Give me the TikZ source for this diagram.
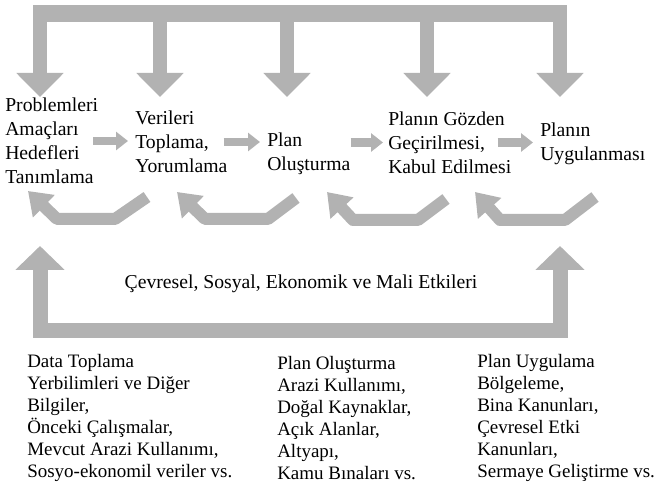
\documentclass[tikz,border=0pt]{standalone}
\usepackage{fontspec}
\setmainfont{Liberation Serif}
\usetikzlibrary{positioning, arrows.meta}

\begin{document}
\begin{tikzpicture}[
    stage/.style={
        inner sep=0pt,
        anchor=west,
        align=left,
        font=\fontsize{14}{17.07}\selectfont
    },
    note/.style={
        inner sep=0pt,
        anchor=west,
        align=left,
        font=\fontsize{13.5}{15.65}\selectfont
    },
    drop/.style={
        draw=black!30,
        line width=0.35cm,
        -{Triangle[length=0.6cm, width=1.15cm]}
    },
    link/.style={
        draw=black!30,
        line width=0.22cm,
        -{Triangle[length=0.3cm, width=0.45cm]}
    },
    back/.style={
        draw=black!30,
        line width=0.3cm,
        line join=round,
        -{Triangle[length=0.55cm, width=0.75cm]}
    },
    loopback/.style={
        draw=black!30,
        line width=0.375cm,
        line join=miter,
        {Triangle[length=0.6cm, width=1.2cm]}-{Triangle[length=0.6cm, width=1.2cm]}
    }
]
\useasboundingbox (0,0) rectangle (16.5,-12.25);

% Stages
\node (n1) at (0.125,-3.525) [stage] {Problemleri\\Amaçları\\Hedefleri\\Tanımlama};
\node (n2) at (3.375,-3.55) [stage] {Verileri\\Toplama,\\Yorumlama};
\node (n3) at (6.675,-3.85) [stage] {Plan\\Oluşturma};
\node (n4) at (9.7,-3.5625) [stage] {Planın Gözden\\Geçirilmesi,\\Kabul Edilmesi};
\node (n5) at (13.5,-3.5875) [stage] {Planın\\Uygulanması};

% Top comb
\coordinate (t1) at (1.0,-0.3375);
\coordinate (t5) at (14.0,-0.3375);
\draw [draw=black!30, line width=0.425cm] ([xshift=-0.175cm]t1) -- ([xshift=0.175cm]t5);
\draw [drop] (t1) -- (1.0,-2.425);
\draw [drop] (4.0,-0.3375) -- (4.0,-2.425);
\draw [drop] (7.175,-0.3375) -- (7.175,-2.425);
\draw [drop] (10.675,-0.3375) -- (10.675,-2.425);
\draw [drop] (t5) -- (14.0,-2.425);

% Forward links
\draw [link, shorten >=0.175cm] ([xshift=-0.125cm]n1.east) -- (n2.west |- n1.east);
\draw [link, shorten >=0.175cm] ([xshift=-0.1cm]n2.east) -- (n2.east -| n3.west);
\draw [link, shorten >=0.125cm] (n3.east |- n4.west) -- (n4.west);
\draw [link, shorten >=0.175cm] ([xshift=-0.35cm]n4.east) -- (n4.east -| n5.west);

% Feedback
\coordinate (r1) at (3.675,-4.925);
\coordinate (r2) at (7.4,-4.95);
\coordinate (r3) at (11.15,-4.975);
\coordinate (r4) at (14.875,-4.925);
\draw [back] (r1) -- ++(-0.8,-0.55) -- ++(-1.45,0) -- ++(-0.725,0.7);
\draw [back] (r2) -- ++(-0.7,-0.525) -- ++(-1.575,0) -- ++(-0.7,0.675);
\draw [back] (r3) -- ++(-0.7,-0.525) -- ++(-1.625,0) -- ++(-0.65,0.7);
\draw [back] (r4) -- ++(-0.75,-0.575) -- ++(-1.625,0) -- ++(-0.625,0.7);

% Impacts
\node (ce) at (7.525,-7.1) [stage, anchor=center] {Çevresel, Sosyal, Ekonomik ve Mali Etkileri};
\coordinate (ua) at (1.0,-6.15);
\coordinate (ub) at (14.0,-6.15);
\coordinate (base) at (0,-8.275);
\draw [loopback] (ua) -- (ua |- base) -- (ub |- base) -- (ub);

% Notes
\node (c1) at (0.675,-10.45) [note] {Data Toplama\\Yerbilimleri ve Diğer\\Bilgiler,\\Önceki Çalışmalar,\\Mevcut Arazi Kullanımı,\\Sosyo-ekonomil veriler vs.};
\node (c2) at (6.925,-10.45) [note] {Plan Oluşturma\\Arazi Kullanımı,\\Doğal Kaynaklar,\\Açık Alanlar,\\Altyapı,\\Kamu Bınaları vs.};
\node (c3) at (11.925,-10.45) [note] {Plan Uygulama\\Bölgeleme,\\Bina Kanunları,\\Çevresel Etki\\Kanunları,\\Sermaye Geliştirme vs.};

\end{tikzpicture}
\end{document}
